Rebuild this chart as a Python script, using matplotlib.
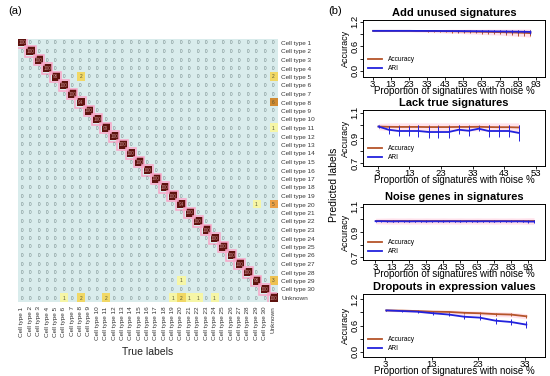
import numpy as np
import matplotlib
matplotlib.use('Agg')
import matplotlib.pyplot as plt
from matplotlib.colors import LinearSegmentedColormap, LogNorm
from matplotlib.patches import Rectangle

plt.rcParams['font.family'] = ['Liberation Sans', 'DejaVu Sans']

# ---------------- data: confusion matrix ----------------
labels = [f"Cell type {i}" for i in range(1, 31)] + ["Unknown"]
diag_counts = [100, 100, 100, 100, 96, 100, 100, 94, 100, 100, 99, 100, 100, 100, 100, 100,
               100, 100, 100, 94, 100, 100, 100, 100, 100, 100, 100, 100, 96, 100, 100]
off_rows = [4, 4, 7, 10, 19, 19, 28, 28, 30, 30, 30, 30, 30, 30, 30, 30]
off_cols = [7, 30, 30, 30, 28, 30, 19, 30, 5, 7, 10, 18, 19, 20, 21, 23]
off_vals = [2, 2, 6, 1, 1, 5, 1, 3, 1, 2, 2, 1, 2, 1, 1, 1]

# ---------------- data: accuracy panels ----------------
x1 = [3.3, 6.7, 10, 13.3, 16.7, 20, 23.3, 26.7, 30, 33.3, 36.7, 40, 43.3, 46.7, 50, 53.3,
      56.7, 60, 63.3, 66.7, 70, 73.3, 76.7, 80, 83.3, 86.7, 90]
acc1 = [0.975, 0.975, 0.975, 0.975, 0.975, 0.975, 0.975, 0.972, 0.972, 0.97, 0.97, 0.968, 0.966,
        0.965, 0.963, 0.96, 0.958, 0.955, 0.952, 0.95, 0.947, 0.944, 0.94, 0.936, 0.932, 0.928, 0.92]
acc1_sd = [0.0, 0.0, 0.0, 0.0, 0.0, 0.005, 0.005, 0.01, 0.01, 0.015, 0.02, 0.02, 0.025, 0.03,
           0.03, 0.035, 0.04, 0.04, 0.045, 0.05, 0.05, 0.055, 0.06, 0.065, 0.07, 0.075, 0.08]
ari1 = [0.975, 0.975, 0.975, 0.975, 0.975, 0.975, 0.975, 0.974, 0.974, 0.973, 0.973, 0.972, 0.971,
        0.97, 0.97, 0.969, 0.968, 0.967, 0.966, 0.965, 0.963, 0.962, 0.96, 0.958, 0.956, 0.953, 0.95]
ari1_sd = [0.0, 0.0, 0.0, 0.0, 0.0, 0.0, 0.0, 0.005, 0.005, 0.005, 0.01, 0.01, 0.01, 0.01,
           0.015, 0.015, 0.015, 0.02, 0.02, 0.02, 0.025, 0.025, 0.03, 0.03, 0.035, 0.035, 0.04]

x2 = [3.3, 6.5, 9.6, 12.8, 15.9, 19.1, 22.2, 25.4, 28.6, 31.7, 34.9, 38.0, 41.2, 44.3, 47.5]
acc2 = [0.99, 0.988, 0.987, 0.987, 0.987, 0.986, 0.986, 0.986, 0.987, 0.987, 0.988, 0.986, 0.985, 0.985, 0.983]
acc2_sd = [0.005, 0.01, 0.012, 0.012, 0.012, 0.013, 0.013, 0.013, 0.012, 0.012, 0.011, 0.013, 0.014, 0.014, 0.016]
ari2 = [0.99, 0.965, 0.955, 0.955, 0.955, 0.947, 0.947, 0.947, 0.965, 0.957, 0.973, 0.955, 0.955, 0.955, 0.94]
ari2_sd = [0.01, 0.03, 0.04, 0.04, 0.045, 0.045, 0.045, 0.045, 0.035, 0.04, 0.02, 0.045, 0.045, 0.05, 0.065]

x3 = [3.3, 6.7, 10, 13.3, 16.7, 20, 23.3, 26.7, 30, 33.3, 36.7, 40, 43.3, 46.7, 50, 53.3,
      56.7, 60, 63.3, 66.7, 70, 73.3, 76.7, 80, 83.3, 86.7, 90, 93.3, 96.7]
acc3 = [0.986] * 29
acc3_sd = [0.002, 0.003, 0.004, 0.005, 0.004, 0.004, 0.005, 0.004, 0.004, 0.005, 0.004, 0.004,
           0.005, 0.004, 0.004, 0.005, 0.004, 0.004, 0.005, 0.004, 0.004, 0.005, 0.004, 0.004,
           0.005, 0.004, 0.005, 0.006, 0.006]
ari3 = [0.985, 0.985, 0.984, 0.983, 0.984, 0.984, 0.983, 0.984, 0.984, 0.983, 0.984, 0.984,
        0.983, 0.984, 0.984, 0.983, 0.984, 0.984, 0.983, 0.984, 0.984, 0.983, 0.984, 0.984,
        0.983, 0.984, 0.983, 0.982, 0.982]
ari3_sd = [0.003, 0.005, 0.006, 0.008, 0.006, 0.006, 0.008, 0.006, 0.006, 0.008, 0.006, 0.006,
           0.008, 0.006, 0.006, 0.008, 0.006, 0.006, 0.008, 0.006, 0.006, 0.008, 0.006, 0.006,
           0.008, 0.006, 0.008, 0.01, 0.01]

x4 = [3.3, 6.7, 10, 13.3, 16.7, 20, 23.3, 26.7, 30, 33.3]
acc4 = [0.945, 0.94, 0.93, 0.915, 0.91, 0.89, 0.88, 0.86, 0.85, 0.81]
acc4_sd = [0.005, 0.01, 0.015, 0.02, 0.025, 0.03, 0.03, 0.035, 0.035, 0.04]
ari4 = [0.945, 0.93, 0.915, 0.88, 0.85, 0.80, 0.78, 0.71, 0.68, 0.62]
ari4_sd = [0.005, 0.01, 0.02, 0.03, 0.04, 0.05, 0.06, 0.07, 0.07, 0.08]

W, H = 550, 376
fig = plt.figure(figsize=(W / 100, H / 100), dpi=100)


def px_axes(x0, y0, x1_, y1_):
    return fig.add_axes([x0 / W, 1 - y1_ / H, (x1_ - x0) / W, (y1_ - y0) / H])


# ---------------- heatmap ----------------
n = len(labels)
mat = np.zeros((n, n))
for i, v in enumerate(diag_counts):
    mat[i, i] = v
for r, c, v in zip(off_rows, off_cols, off_vals):
    mat[r, c] = v

cmap = LinearSegmentedColormap.from_list(
    'conf', [(0.0, '#f6f6a6'), (0.15, '#f1d865'), (0.25, '#eec050'), (0.35, '#eca045'),
             (0.40, '#c8842c'), (0.7, '#7a2014'), (1.0, '#5e120e')])
cmap.set_bad('#d9ecec')
masked = np.ma.masked_where(mat == 0, mat)

axh = px_axes(17.8, 38.75, 277.2, 302.25)
axh.imshow(masked, cmap=cmap, norm=LogNorm(vmin=1, vmax=100), aspect='auto',
           interpolation='nearest', extent=(-0.5, n - 0.5, n - 0.5, -0.5))
for i in range(n):
    axh.add_patch(Rectangle((i - 0.62, i - 0.62), 1.24, 1.24, fill=False, edgecolor='#f9a6c8',
                            linewidth=1.1, zorder=3))
for r in range(n):
    for c in range(n):
        v = int(mat[r, c])
        if r == c:
            col = '#c89090'
        elif v == 0:
            col = '#6a7f7f'
        else:
            col = '#555533'
        axh.text(c, r, str(v), ha='center', va='center', fontsize=3.4, color=col, zorder=4)
axh.set_xlim(-0.5, n - 0.5)
axh.set_ylim(n - 0.5, -0.5)
for s in axh.spines.values():
    s.set_visible(False)
axh.yaxis.tick_right()
axh.set_yticks(range(n))
axh.set_yticklabels(labels, fontsize=4.6, color='#333333')
axh.set_xticks(range(n))
axh.set_xticklabels(labels, fontsize=4.6, rotation=90, color='#333333')
axh.tick_params(length=0, pad=3)
axh.set_xlabel('True labels', fontsize=7.5, labelpad=5, color='#222222')

fig.text(8 / W, 1 - 11 / H, '(a)', fontsize=8, va='center', ha='left')
fig.text(328 / W, 1 - 11 / H, '(b)', fontsize=8, va='center', ha='left')
fig.text(334 / W, 1 - 185 / H, 'Predicted labels', fontsize=7.5, rotation=90,
         ha='center', va='center')

# ---------------- line panels ----------------
ACC_C = '#b5542a'
ARI_C = '#2222dd'
panels = [
    ((363, 20, 545, 77), 'Add unused signatures', x1, acc1, acc1_sd, ari1, ari1_sd,
     (-2.3, 98), (-0.15, 1.24), [3, 13, 23, 33, 43, 53, 63, 73, 83, 93],
     [0.0, 0.3, 0.6, 0.9, 1.2], ['0.0', '', '0.6', '', '1.2']),
    ((363, 110, 545, 166), 'Lack true signatures', x2, acc2, acc2_sd, ari2, ari2_sd,
     (-1.6, 55.8), (0.68, 1.12), [3, 13, 23, 33, 43, 53],
     [0.7, 0.8, 0.9, 1.0, 1.1], ['0.7', '', '0.9', '', '1.1']),
    ((363, 204, 545, 260), 'Noise genes in signatures', x3, acc3, acc3_sd, ari3, ari3_sd,
     (-4.1, 103.2), (0.68, 1.12), [3, 13, 23, 33, 43, 53, 63, 73, 83, 93],
     [0.7, 0.8, 0.9, 1.0, 1.1], ['0.7', '', '0.9', '', '1.1']),
    ((363, 294, 545, 357), 'Dropouts in expression values', x4, acc4, acc4_sd, ari4, ari4_sd,
     (-1.7, 37.3), (-0.12, 1.32), [3, 13, 23, 33],
     [0.0, 0.3, 0.6, 0.9, 1.2], ['0.0', '', '0.6', '', '1.2']),
]

for box, title, xs, acc, accsd, ari, arisd, xl, yl, xt, yt, ytl in panels:
    ax = px_axes(*box)
    xs = np.array(xs); acc = np.array(acc); accsd = np.array(accsd)
    ari = np.array(ari); arisd = np.array(arisd)
    ax.fill_between(xs, acc - accsd - 0.02, np.minimum(acc + accsd + 0.02, 1.02),
                    color='#ffd0e0', alpha=0.6, linewidth=0, zorder=1)
    ax.errorbar(xs, acc, yerr=accsd, color=ACC_C, linewidth=1.3, elinewidth=0.7,
                capsize=0, zorder=3)
    ax.errorbar(xs, ari, yerr=arisd, color=ARI_C, linewidth=1.3, elinewidth=0.7,
                capsize=0, zorder=4)
    ax.plot([], [], color=ACC_C, linewidth=1.3, label='Accuracy')
    ax.plot([], [], color=ARI_C, linewidth=1.3, label='ARI')
    ax.set_xlim(*xl)
    ax.set_ylim(*yl)
    ax.set_xticks(xt)
    ax.set_xticklabels([str(t) for t in xt], fontsize=6.8)
    ax.set_yticks(yt)
    ax.set_yticklabels(ytl, fontsize=6.8, rotation=90, va='center')
    ax.tick_params(direction='out', length=2, width=0.6, pad=0.5)
    for s in ax.spines.values():
        s.set_linewidth(0.7)
    ax.set_xlabel('Proportion of signatures with noise %', fontsize=7, labelpad=-2.5)
    ax.set_ylabel('Accuracy', fontsize=6.5, labelpad=0.5)
    ax.set_title(title, fontsize=8, fontweight='bold', pad=3)
    ax.legend(handles=ax.get_legend_handles_labels()[0][-2:],
              labels=['Accuracy', 'ARI'], loc='lower left', fontsize=4.8, frameon=False,
              handlelength=2.2, borderaxespad=0.3, labelspacing=0.3)

fig.savefig('out.png', dpi=100)
